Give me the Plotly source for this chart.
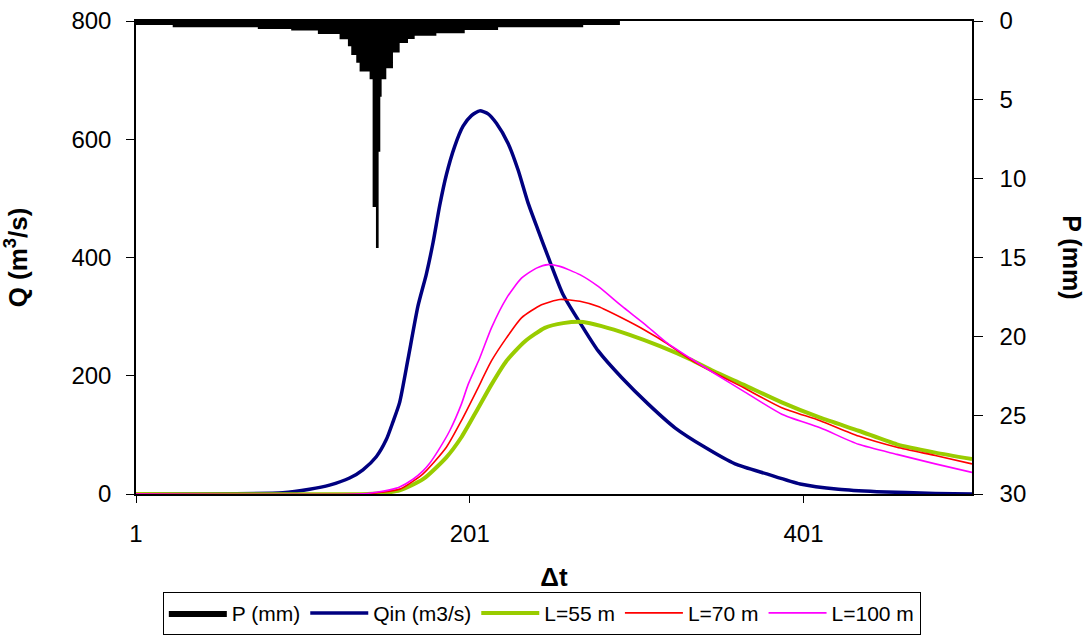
import plotly.graph_objects as go

# Rainfall hyetograph (step start times and depth in mm)
p_t = [1, 23, 74, 94, 110, 123, 128, 130, 133, 135, 141, 142.8, 144.8, 146.4, 147.4, 148.2,
       151, 155, 159, 164, 168, 181, 198, 218, 269, 291, 502]
p_mm = [0.25, 0.40, 0.50, 0.61, 0.82, 1.15, 1.6, 2.15, 2.65, 3.2, 3.7, 11.8, 14.4, 8.3, 4.8, 3.7,
        3.0, 2.0, 1.4, 1.14, 0.93, 0.78, 0.57, 0.40, 0.25, 0.0, 0.0]

# Inflow hydrograph
qin_t = [1, 89, 105, 117, 129, 137, 145, 151, 155, 159, 164, 170, 175, 179, 183, 187, 192, 197,
         202, 207, 212, 217, 224, 230, 236, 242, 248, 257, 269, 278, 292, 308, 324, 342, 360,
         379, 399, 422, 445, 480, 502]
qin = [0, 2, 8, 15, 27, 41, 63, 92, 122, 155, 228, 318, 372, 425, 488, 540, 588, 622,
       640, 648, 643, 627, 593, 548, 492, 446, 401, 337, 281, 242, 197, 152, 112, 79, 51,
       34, 17, 8, 4, 1, 0]

# Outflow for the three lengths
l55_t = [1, 140, 150, 159, 173, 187, 196, 205, 214, 223, 234, 246, 257, 269, 280, 296, 315,
         333, 347, 365, 388, 411, 434, 457, 480, 502]
l55 = [0, 0, 2, 6, 25, 62, 96, 140, 185, 225, 258, 281, 289, 291, 284, 270, 250,
       228, 208, 185, 155, 129, 107, 84, 70, 59]

l70_t = [1, 138, 148, 159, 173, 187, 196, 205, 214, 223, 232, 244, 255, 267, 278, 292, 306,
         319, 333, 347, 365, 388, 411, 434, 457, 480, 502]
l70 = [0, 0, 3, 8, 34, 79, 124, 174, 225, 264, 298, 320, 329, 326, 317, 298, 277,
       255, 228, 206, 180, 146, 124, 98, 79, 65, 51]

l100_t = [1, 135, 145, 153, 159, 167, 173, 177, 182, 189, 196, 200, 207, 214, 223, 232, 241,
          248, 255, 267, 278, 292, 306, 319, 333, 347, 365, 388, 411, 434, 457, 480, 502]
l100 = [0, 0, 3, 7, 12, 25, 39, 52, 73, 107, 152, 185, 230, 281, 331, 365, 382,
        388, 385, 371, 351, 318, 287, 256, 230, 205, 174, 135, 112, 84, 67, 51, 36.5]

x_ticks = [1, 201, 401]

font_family = "Liberation Sans, Arial, sans-serif"

fig = go.Figure()

fig.add_trace(go.Scatter(
    x=p_t, y=p_mm, name="P (mm)", yaxis="y2", mode="lines",
    line=dict(shape="hv", color="black", width=0),
    fill="tozeroy", fillcolor="black"
))
fig.add_trace(go.Scatter(
    x=qin_t, y=qin, name="Qin (m3/s)", mode="lines",
    line=dict(color="#000080", width=3.5, shape="spline", smoothing=0.6)
))
fig.add_trace(go.Scatter(
    x=l55_t, y=l55, name="L=55 m", mode="lines",
    line=dict(color="#99CC00", width=4, shape="spline", smoothing=0.6)
))
fig.add_trace(go.Scatter(
    x=l70_t, y=l70, name="L=70 m", mode="lines",
    line=dict(color="#FF0000", width=1.6, shape="spline", smoothing=0.6)
))
fig.add_trace(go.Scatter(
    x=l100_t, y=l100, name="L=100 m", mode="lines",
    line=dict(color="#FF00FF", width=1.6, shape="spline", smoothing=0.6)
))

fig.update_layout(
    width=1088, height=637,
    margin=dict(l=136, r=116, t=21, b=143),
    paper_bgcolor="white", plot_bgcolor="white",
    font=dict(family=font_family, size=24, color="black"),
    showlegend=True,
    # legend placed against the page so it does not push the bottom margin
    legend=dict(
        orientation="h", xref="container", yref="container",
        x=0.498, xanchor="center", y=0.071, yanchor="top",
        bordercolor="black", borderwidth=1, font=dict(size=21),
        itemwidth=58, tracegroupgap=0
    ),
    xaxis=dict(
        range=[1, 502], tickmode="array", tickvals=x_ticks,
        ticks="outside", ticklen=7, tickcolor="black", ticklabelstandoff=10,
        showline=True, linecolor="black", linewidth=1.5, mirror=True,
        showgrid=False, zeroline=False, automargin=False,
        title=dict(text="<b>Δt</b>", font=dict(size=26), standoff=24)
    ),
    yaxis=dict(
        range=[0, 800], dtick=200,
        ticks="outside", ticklen=8, tickcolor="black", ticklabelstandoff=10,
        ticklabeloverflow="allow",
        showline=True, linecolor="black", linewidth=1.5,
        showgrid=False, zeroline=False, automargin=False,
        title=dict(text="<b>Q (m<sup>3</sup>/s)</b>", font=dict(size=26), standoff=36)
    ),
    yaxis2=dict(
        range=[30, 0], dtick=5, overlaying="y", side="right",
        ticks="outside", ticklen=9, tickcolor="black", ticklabelstandoff=12,
        ticklabeloverflow="allow",
        showline=True, linecolor="black", linewidth=1.5,
        showgrid=False, zeroline=False, automargin=False
    ),
    # inner half of the crossing ticks on the P axis
    yaxis3=dict(
        range=[30, 0], dtick=5, overlaying="y", side="right",
        ticks="inside", ticklen=9, tickcolor="black", showticklabels=False,
        showline=False, showgrid=False, zeroline=False, automargin=False
    ),
    annotations=[dict(
        text="<b>P (mm)</b>", textangle=90, xref="paper", yref="paper",
        x=1.12, y=0.5, xanchor="center", yanchor="middle",
        showarrow=False, font=dict(size=25)
    )]
)

# drop the default page margin so the figure sits at the window's corner
fig.write_html("out.html", config={"displayModeBar": False},
               post_script="document.body.style.margin = '0px';")
